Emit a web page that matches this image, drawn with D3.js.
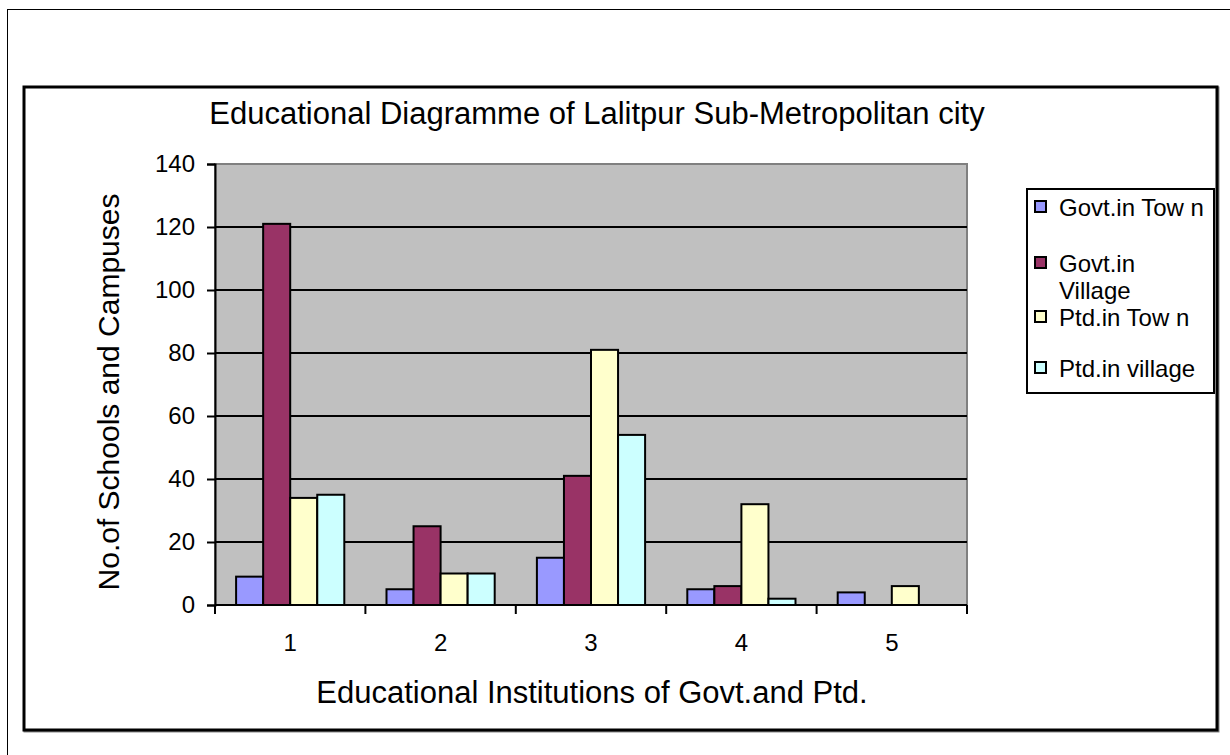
<!DOCTYPE html>
<html>
<head>
<meta charset="utf-8">
<script src="https://cdn.jsdelivr.net/npm/d3@7"></script>
<style>
  body { margin: 0; background: #fff; }
  svg { display: block; font-family: "Liberation Sans", Arial, sans-serif; }
</style>
</head>
<body>
<svg id="chart" width="1230" height="755"></svg>
<script>
// ── Data ────────────────────────────────────────────────
const categories = ['1', '2', '3', '4', '5'];
const seriesNames = ['Govt.in Town', 'Govt.in Village', 'Ptd.in Town', 'Ptd.in village'];
const legendLabels = [['Govt.in Tow n'], ['Govt.in', 'Village'], ['Ptd.in Tow n'], ['Ptd.in village']];
const govtTown    = [9, 5, 15, 5, 4];
const govtVillage = [121, 25, 41, 6, 0];
const ptdTown     = [34, 10, 81, 32, 6];
const ptdVillage  = [35, 10, 54, 2, 0];
const yTicks = [0, 20, 40, 60, 80, 100, 120, 140];
const colors = ['#9999ff', '#993366', '#ffffcc', '#ccffff'];

const series = [govtTown, govtVillage, ptdTown, ptdVillage];
const FONT = '"Liberation Sans", Arial, sans-serif';

const svg = d3.select('#chart');

// outer frame (runs off the page right/bottom)
svg.append('rect').attr('x', 7.5).attr('y', 9.5).attr('width', 1240).attr('height', 760)
    .attr('fill', 'none').attr('stroke', '#000').attr('stroke-width', 1);

// chart area border with soft shadow
svg.append('rect').attr('x', 25).attr('y', 88).attr('width', 1193).attr('height', 643)
    .attr('fill', 'none').attr('stroke', '#888').attr('stroke-width', 3);
svg.append('rect').attr('x', 24).attr('y', 87).attr('width', 1193).attr('height', 643)
    .attr('fill', '#fff').attr('stroke', '#000').attr('stroke-width', 3);

// ── Plot ────────────────────────────────────────────────
const plot = { left: 215, right: 967, top: 164, bottom: 605 };

const x = d3.scaleBand().domain(categories).range([plot.left, plot.right]).padding(0);
const xs = d3.scaleBand().domain(d3.range(series.length)).range([0, x.bandwidth()])
    .paddingInner(0).paddingOuter(0.78);
const y = d3.scaleLinear().domain([0, 140]).range([plot.bottom, plot.top]);

svg.append('rect').attr('x', plot.left).attr('y', plot.top)
    .attr('width', plot.right - plot.left).attr('height', plot.bottom - plot.top)
    .attr('fill', '#c0c0c0').attr('stroke', '#808080').attr('stroke-width', 2);

// gridlines
svg.append('g').selectAll('line').data(yTicks.filter(d => d > 0 && d < 140)).join('line')
    .attr('x1', plot.left).attr('x2', plot.right)
    .attr('y1', d => y(d)).attr('y2', d => y(d))
    .attr('stroke', '#000').attr('stroke-width', 2);

// bars
svg.append('g').selectAll('g').data(series).join('g')
    .attr('fill', (d, i) => colors[i])
    .each(function(vals, si) {
        d3.select(this).selectAll('rect')
            .data(vals.map((v, ci) => ({ v, c: categories[ci] })).filter(d => d.v > 0))
            .join('rect')
            .attr('x', d => x(d.c) + xs(si))
            .attr('y', d => y(d.v))
            .attr('width', xs.bandwidth())
            .attr('height', d => y(0) - y(d.v))
            .attr('stroke', '#000').attr('stroke-width', 2);
    });

// axes
const yAxis = svg.append('g').attr('transform', `translate(${plot.left},0)`)
    .call(d3.axisLeft(y).tickValues(yTicks).tickSize(8).tickPadding(12));
const xAxis = svg.append('g').attr('transform', `translate(0,${plot.bottom})`)
    .call(d3.axisBottom(x).tickSize(0).tickPadding(29));
xAxis.select('.domain').attr('d', `M${plot.left},0H${plot.right}`);
// category separators below the axis
xAxis.append('g').selectAll('line').data(d3.range(categories.length + 1)).join('line')
    .attr('x1', i => plot.left + i * x.step()).attr('x2', i => plot.left + i * x.step())
    .attr('y1', 0).attr('y2', 9).attr('stroke', '#000').attr('stroke-width', 2);
[yAxis, xAxis].forEach(a => {
    a.select('.domain').attr('stroke', '#000').attr('stroke-width', 2);
    a.selectAll('.tick line').attr('stroke', '#000').attr('stroke-width', 2);
    a.selectAll('text').attr('font-size', 24).attr('fill', '#000').style('font-family', FONT);
});

// titles
svg.append('text').attr('x', 597).attr('y', 124).attr('text-anchor', 'middle')
    .attr('font-size', 31).text('Educational Diagramme of Lalitpur Sub-Metropolitan city');
svg.append('text').attr('x', 592).attr('y', 703).attr('text-anchor', 'middle')
    .attr('font-size', 31).text('Educational Institutions of Govt.and Ptd.');
svg.append('text').attr('transform', 'translate(119,392) rotate(-90)').attr('text-anchor', 'middle')
    .attr('font-size', 30).text('No.of Schools and Campuses');

// legend
const lg = svg.append('g');
lg.append('rect').attr('x', 1027).attr('y', 189).attr('width', 187).attr('height', 204)
    .attr('fill', '#fff').attr('stroke', '#000').attr('stroke-width', 2);
const rowBase = [216, 272, 326, 377];
legendLabels.forEach((lines, i) => {
    lg.append('rect').attr('x', 1035).attr('y', rowBase[i] - 15).attr('width', 11).attr('height', 11)
        .attr('fill', colors[i]).attr('stroke', '#000').attr('stroke-width', 2);
    lines.forEach((t, j) => {
        lg.append('text').attr('x', 1059).attr('y', rowBase[i] + j * 27)
            .attr('font-size', 24).text(t);
    });
});
</script>
</body>
</html>
